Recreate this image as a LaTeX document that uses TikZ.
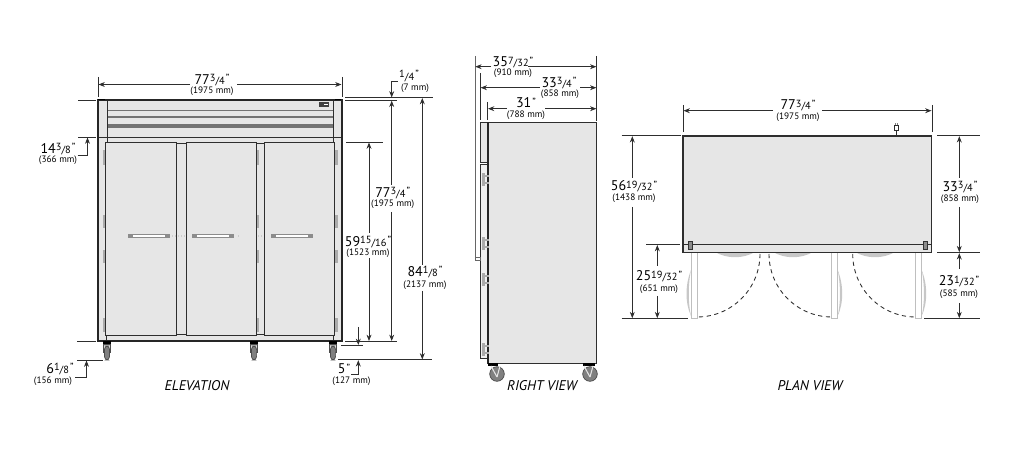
\documentclass[tikz,border=0pt]{standalone}
\usepackage{fontspec}
\setmainfont{PT Sans}
\usetikzlibrary{arrows.meta}
\definecolor{bodygray}{HTML}{E6E6E6}
\definecolor{hingegray}{HTML}{ABABAB}
\definecolor{inkgray}{HTML}{2E2E2E}
\newcommand{\frc}[2]{{\fontsize{5.9}{6}\selectfont\raisebox{1.3pt}{#1}/#2}}
\newcommand{\inch}{\kern0.6pt{\fontsize{5.9}{6}\selectfont\raisebox{1.3pt}{\char34}}}
\tikzset{
  inches/.style={inner sep=0pt,font=\fontsize{8}{9}\selectfont},
  millis/.style={inner sep=0pt,font=\fontsize{5.3}{6}\selectfont},
  viewname/.style={inner sep=0pt,font=\fontsize{8}{9}\selectfont\itshape},
  extline/.style={line width=0.45pt,draw=inkgray},
  dimline/.style={line width=0.45pt,draw=inkgray},
  dimtip/.style={dimline,-{Stealth[length=3.6pt,width=2.8pt]}},
  outline/.style={line width=0.8pt,draw=black!85},
  panel/.style={line width=0.55pt,draw=inkgray,fill=bodygray},
  thin line/.style={line width=0.5pt,draw=inkgray},
  hinge/.style={draw=none,fill=hingegray},
  leaf/.style={line width=0.45pt,draw=black!25,fill=white},
  grip/.style={draw=none,fill=black!22},
  swing/.style={line width=0.5pt,draw=inkgray,dash pattern=on 2.4pt off 2pt},
  wheel/.style={line width=0.4pt,draw=black!70,fill=black!50}
}
\begin{document}
\begin{tikzpicture}[x=0.02cm,y=-0.02cm]
\useasboundingbox (0,0) rectangle (1028,465);
% elevation
\fill[bodygray] (98,100) rectangle (342,341);
\draw[thin line] (98,137) -- (342,137);
\fill[black!55] (107,110) rectangle (333,111.5);
\fill[black!55] (107,116.5) rectangle (333,118);
\fill[black!55] (107,124.5) rectangle (333,128);
\draw[thin line] (107,100) -- (107,142);
\draw[thin line] (333,100) -- (333,142);
\draw[thin line] (176,143) -- (186,143);
\draw[thin line] (256,143) -- (264,143);
\draw[thin line] (176,334) -- (186,334);
\draw[thin line] (256,334) -- (264,334);
\draw[panel] (105.5,142) rectangle (176,335);
\draw[panel] (186,142) rectangle (256,335);
\draw[panel] (264.5,142) rectangle (334.5,335);
\draw[thin line] (106.5,335) -- (106.5,341);
\draw[thin line] (333,335) -- (333,341);
\foreach \hx in {102.5,256.5,335}
  \foreach \hy/\hz in {150/165,215/228,250/263,318/332}
    \fill[hinge] (\hx,\hy) rectangle ++(2.8,\hz-\hy);
\foreach \hx in {128,192,271}{
  \fill[black!45] (\hx,234.5) rectangle ++(42,3.4);
  \fill[white] (\hx+5,235.4) rectangle ++(32,1.6);
}
\foreach \hx in {172,175,178,181,184,238,258,261}
  \fill[black!20] (\hx,235) rectangle ++(1,2.4);
\fill[black!75] (319,102.5) rectangle (329,107);
\fill[white] (324,104) rectangle (328,105.5);
\draw[outline] (98,100) rectangle (342,341);
\fill[black] (98,98.8) rectangle (105,100);
\fill[black] (335,98.8) rectangle (341,100);
\foreach \cx in {107,254,333}{
  \fill[black] (\cx-4,341) rectangle (\cx+4,344);
  \draw[line width=0.4pt,draw=black!70,fill=black!15] (\cx-3.8,344) rectangle (\cx+3.8,352);
  \draw[wheel,rounded corners=2pt] (\cx-2.6,346) rectangle (\cx+2.6,360);
}
\node[viewname] (elevname) at (197,386) {ELEVATION};
% elevation dimensions
\draw[extline] (98,77) -- (98,97);
\draw[extline] (342,77) -- (342,97);
\node[inches] (elevw) at (212,80) {77\frc{3}{4}\inch};
\node[millis] (elevwmm) at (212,91.5) {(1975 mm)};
\draw[dimtip] (190,84.5) -- (98.5,84.5);
\draw[dimtip] (237,84.5) -- (341.5,84.5);
\draw[extline] (78,100) -- (96,100);
\draw[extline] (78,137) -- (96,137);
\draw[dimtip] (77.5,155) -- (87.5,155) -- (87.5,137.5);
\node[inches] (doortop) at (58,149) {14\frc{3}{8}\inch};
\node[millis] (doortopmm) at (58,160.5) {(366 mm)};
\draw[extline] (77,341) -- (96,341);
\draw[extline] (77,360) -- (103,360);
\draw[dimtip] (75,377.5) -- (86.5,377.5) -- (86.5,360.5);
\node[inches] (caster) at (60,369) {6\frc{1}{8}\inch};
\node[millis] (castermm) at (53,381.5) {(156 mm)};
\draw[extline] (345,97.7) -- (433,97.7);
\draw[extline] (345,100.2) -- (397,100.2);
\draw[dimtip] (397.5,81) -- (391.7,81) -- (391.7,97.5);
\node[inches] (cap) at (409,76) {\frc{1}{4}\inch};
\node[millis] (capmm) at (415,88) {(7 mm)};
\draw[dimtip] (391.7,185) -- (391.7,100.7);
\draw[dimtip] (391.7,212) -- (391.7,341);
\node[inches] (bodyh) at (392.7,193) {77\frc{3}{4}\inch};
\node[millis] (bodyhmm) at (392.7,204.5) {(1975 mm)};
\draw[dimtip] (422.3,265) -- (422.3,98);
\draw[dimtip] (422.3,291) -- (422.3,359.5);
\node[inches] (totalh) at (425,272) {84\frc{1}{8}\inch};
\node[millis] (totalhmm) at (425,285.5) {(2137 mm)};
\draw[extline] (346,142) -- (383,142);
\draw[dimtip] (369,233) -- (369,142.5);
\draw[dimtip] (369,258) -- (369,341);
\node[inches] (doorh) at (368,242) {59\frc{15}{16}\inch};
\node[millis] (doorhmm) at (368,253.5) {(1523 mm)};
\draw[extline] (345,341.5) -- (397,341.5);
\draw[extline] (341,345.5) -- (363,345.5);
\draw[extline] (338,359.7) -- (432,359.7);
\draw[dimtip] (358.3,327) -- (358.3,345);
\draw[dimtip] (351,374) -- (358.3,374) -- (358.3,360.2);
\node[inches] (gap) at (344,369) {5\inch};
\node[millis] (gapmm) at (351.5,381.5) {(127 mm)};
% right view
\draw[panel,line width=0.8pt] (487.7,122.3) rectangle (596.7,363.3);
\draw[panel] (480.3,122.3) rectangle (487.7,162.7);
\draw[panel,fill=black!6] (480.3,164) rectangle (487,358.3);
\draw[line width=1.3pt,draw=black!85] (487.7,122.3) -- (487.7,363.3);
\foreach \hy in {173,237,273,343}{
  \fill[hinge] (482,\hy) rectangle ++(3,13.5);
  \fill[hinge] (482,\hy+2.5) rectangle ++(7,1.8);
  \fill[hinge] (482,\hy+9.2) rectangle ++(7,1.8);
}
\draw[line width=0.4pt,draw=black!60,fill=white] (475,257) rectangle (480,260);
\foreach \cx/\sa/\sb in {497/488/498,590/583/595}{
  \fill[black] (\sa,363.3) rectangle (\sb,366);
  \draw[wheel] (\cx,374) circle (7.3);
  \draw[line width=0.6pt,draw=black!10] (\cx-6,366) -- (\cx,377);
  \draw[line width=0.6pt,draw=black!10] (\cx+3,366) -- (\cx,377);
}
\node[viewname] (rightname) at (542,386) {RIGHT VIEW};
% right view dimensions
\draw[extline,draw=black!60] (475,56) -- (475,257);
\draw[extline] (480.3,73) -- (480.3,120);
\draw[extline] (487.7,102) -- (487.7,120);
\draw[extline] (596.7,56) -- (596.7,121);
\draw[dimtip] (491,66.7) -- (475.3,66.7);
\draw[dimtip] (528,66.7) -- (596.4,66.7);
\node[inches] (depthall) at (513,62.5) {35\frc{7}{32}\inch};
\node[millis] (depthallmm) at (513,73.3) {(910 mm)};
\draw[dimtip] (540,87.7) -- (480.6,87.7);
\draw[dimtip] (580,87.7) -- (596.4,87.7);
\node[inches] (depthdoor) at (559,83) {33\frc{3}{4}\inch};
\node[millis] (depthdoormm) at (560,94) {(858 mm)};
\draw[dimtip] (507,108.7) -- (488,108.7);
\draw[dimtip] (545,108.7) -- (596.4,108.7);
\node[inches] (depthbody) at (526,103) {31\inch};
\node[millis] (depthbodymm) at (526,115) {(788 mm)};
% plan view
\foreach \lx in {691,831.7,915.7}
  \draw[leaf] (\lx,252.5) rectangle ++(6,66);
\fill[grip] (691,270) .. controls (685,285) and (685,303) .. (691,316)
  .. controls (688,303) and (688,285) .. (691,270);
\foreach \gx in {837.7,921.7}
  \fill[grip] (\gx,270) .. controls (\gx+6,285) and (\gx+6,303) .. (\gx,316)
    .. controls (\gx+3,303) and (\gx+3,285) .. (\gx,270);
\foreach \gx in {715,773,855}
  \fill[grip] (\gx,252) .. controls (\gx+12,259) and (\gx+28,259) .. (\gx+40,252) -- cycle;
\draw[panel,line width=0.8pt] (683,136) rectangle (931.7,252.3);
\draw[thin line] (683,244.3) -- (931.7,244.3);
\foreach \hx in {688,923}
  \draw[line width=0.4pt,draw=black!80,fill=black!45] (\hx,241.7) rectangle ++(4,7.6);
\draw[swing] (760,254) arc[start angle=0,end angle=90,radius=63];
\draw[swing] (769,254) arc[start angle=180,end angle=90,radius=63];
\draw[swing] (852.7,254) arc[start angle=180,end angle=90,radius=63];
\draw[line width=0.45pt,draw=inkgray] (896,136) -- (896,130);
\draw[line width=0.4pt,draw=inkgray,fill=white] (894,125) rectangle (898,130);
\draw[line width=0.4pt,draw=black!50] (895,125) -- (895,123);
\draw[line width=0.4pt,draw=black!50] (897,125) -- (897,123);
\node[viewname] (planname) at (810,386) {PLAN VIEW};
% plan view dimensions
\draw[extline] (683,105) -- (683,132);
\draw[extline] (932,105) -- (932,132);
\draw[dimtip] (773,110.7) -- (683.5,110.7);
\draw[dimtip] (822,110.7) -- (931.5,110.7);
\node[inches] (planw) at (798,105.5) {77\frc{3}{4}\inch};
\node[millis] (planwmm) at (798,117.5) {(1975 mm)};
\draw[extline] (621.7,135.7) -- (680.7,135.7);
\draw[extline] (937,135.7) -- (980,135.7);
\draw[extline] (646,244.5) -- (680,244.5);
\draw[extline] (937,252.7) -- (980,252.7);
\draw[extline] (621.7,318.7) -- (688,318.7);
\draw[extline] (924,318.7) -- (980,318.7);
\draw[dimtip] (632.3,178) -- (632.3,136.2);
\draw[dimtip] (632.3,207) -- (632.3,318.2);
\node[inches] (plandoor) at (634,186.5) {56\frc{19}{32}\inch};
\node[millis] (plandoormm) at (634,198) {(1438 mm)};
\draw[dimtip] (959.3,178) -- (959.3,136.2);
\draw[dimtip] (959.3,207) -- (959.3,252.2);
\node[inches] (plandepth) at (960,187) {33\frc{3}{4}\inch};
\node[millis] (plandepthmm) at (960,199.5) {(858 mm)};
\draw[dimtip] (657.3,266) -- (657.3,245);
\draw[dimtip] (657.3,296) -- (657.3,318.2);
\node[inches] (swingl) at (659,276.7) {25\frc{19}{32}\inch};
\node[millis] (swinglmm) at (659,289.7) {(651 mm)};
\draw[dimtip] (959.3,269) -- (959.3,253.2);
\draw[dimtip] (959.3,303) -- (959.3,318.2);
\node[inches] (swingr) at (959,281.7) {23\frc{1}{32}\inch};
\node[millis] (swingrmm) at (959,294.3) {(585 mm)};
\end{tikzpicture}
\end{document}
